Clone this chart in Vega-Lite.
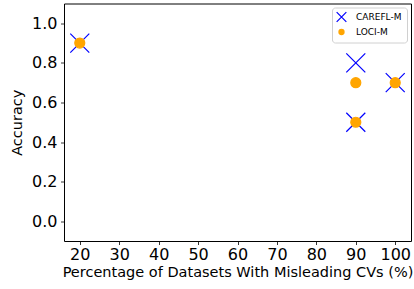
{
  "$schema": "https://vega.github.io/schema/vega-lite/v6.json",
  "autosize": {"type": "none"},
  "padding": {"left": 64, "top": 3.5, "right": 3, "bottom": 48},
  "width": 347,
  "height": 237.5,
  "config": {
    "font": "DejaVu Sans",
    "view": {"stroke": "black", "strokeWidth": 1},
    "axis": {"grid": false, "domain": false, "tickColor": "black", "tickSize": 3.5, "tickWidth": 0.8, "labelColor": "black", "titleColor": "black", "labelFont": "DejaVu Sans", "titleFont": "DejaVu Sans", "titleFontWeight": "normal"},
    "legend": {"strokeColor": "#d0d0d0", "fillColor": "white", "cornerRadius": 3, "padding": 5, "labelFontSize": 9, "labelColor": "black", "labelFont": "DejaVu Sans", "symbolSize": 26, "symbolStrokeWidth": 1.2, "rowPadding": 2, "labelOffset": 10}
  },
  "data": {
    "values": [
      {"method": "CAREFL-M", "pct": 20, "acc": 0.9},
      {"method": "CAREFL-M", "pct": 90, "acc": 0.8},
      {"method": "CAREFL-M", "pct": 90, "acc": 0.5},
      {"method": "CAREFL-M", "pct": 100, "acc": 0.7},
      {"method": "LOCI-M", "pct": 20, "acc": 0.9},
      {"method": "LOCI-M", "pct": 90, "acc": 0.7},
      {"method": "LOCI-M", "pct": 90, "acc": 0.5},
      {"method": "LOCI-M", "pct": 100, "acc": 0.7}
    ]
  },
  "mark": {"type": "point", "filled": true, "strokeWidth": 1.2, "opacity": 1, "size": 100},
  "encoding": {
    "x": {
      "field": "pct", "type": "quantitative",
      "scale": {"domain": [16, 104], "nice": false, "zero": false},
      "axis": {"values": [20, 30, 40, 50, 60, 70, 80, 90, 100], "labelFontSize": 16, "labelPadding": 2, "title": "Percentage of Datasets With Misleading CVs (%)", "titleFontSize": 14.5, "titlePadding": 3}
    },
    "y": {
      "field": "acc", "type": "quantitative",
      "scale": {"domain": [-0.1, 1.1], "nice": false, "zero": false},
      "axis": {"values": [0, 0.2, 0.4, 0.6, 0.8, 1.0], "format": ".1f", "labelFontSize": 16, "labelPadding": 3.5, "title": "Accuracy", "titleFontSize": 14.5, "titlePadding": 7}
    },
    "shape": {
      "field": "method", "type": "nominal",
      "scale": {"domain": ["CAREFL-M", "LOCI-M"], "range": ["M-1.9,-1.9L1.9,1.9M-1.9,1.9L1.9,-1.9", "circle"]},
      "legend": {"title": null, "orient": "top-right", "offset": 4}
    },
    "fill": {
      "field": "method", "type": "nominal",
      "scale": {"domain": ["CAREFL-M", "LOCI-M"], "range": ["#0000ff", "#ffa500"]},
      "legend": {"title": null, "orient": "top-right", "offset": 4}
    },
    "stroke": {
      "field": "method", "type": "nominal",
      "scale": {"domain": ["CAREFL-M", "LOCI-M"], "range": ["#0000ff", "#ffa500"]},
      "legend": {"title": null, "orient": "top-right", "offset": 4}
    }
  }
}
